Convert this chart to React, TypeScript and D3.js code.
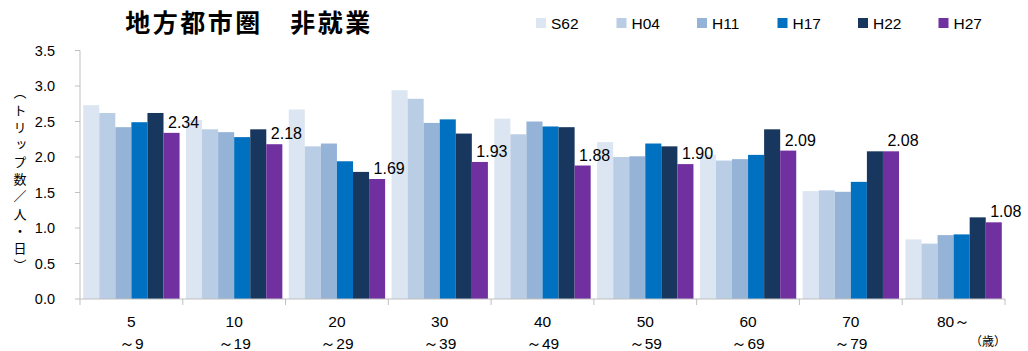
import React from "react";
import * as d3 from "d3";

const ageGroups = ["5\n～9", "10\n～19", "20\n～29", "30\n～39", "40\n～49", "50\n～59", "60\n～69", "70\n～79", "80～"];
const seriesNames = ["S62", "H04", "H11", "H17", "H22", "H27"];
const seriesColors = ["#DCE6F2", "#B9CDE5", "#95B3D7", "#0070C0", "#17375E", "#7030A0"];

const S62 = [2.73, 2.52, 2.67, 2.94, 2.54, 2.21, 2.03, 1.52, 0.84];
const H04 = [2.62, 2.39, 2.15, 2.82, 2.32, 2.0, 1.95, 1.53, 0.78];
const H11 = [2.42, 2.35, 2.19, 2.48, 2.5, 2.01, 1.97, 1.51, 0.9];
const H17 = [2.49, 2.28, 1.94, 2.53, 2.43, 2.19, 2.03, 1.65, 0.91];
const H22 = [2.62, 2.39, 1.79, 2.33, 2.42, 2.15, 2.39, 2.08, 1.15];
const H27 = [2.34, 2.18, 1.69, 1.93, 1.88, 1.9, 2.09, 2.08, 1.08];

const yTicks = [0, 0.5, 1.0, 1.5, 2.0, 2.5, 3.0, 3.5];

const W = 1028;
const H = 351;
const plot = { left: 80, right: 1005, top: 50.5, bottom: 299 };
const latin = "'Liberation Sans', Arial, sans-serif";
const cjk = "'Noto Sans CJK JP', sans-serif";
const axisColor = "#BFBFBF";

export default function App() {
  const series = [S62, H04, H11, H17, H22, H27];
  const x0 = d3.scaleBand<number>().domain(d3.range(ageGroups.length)).range([plot.left, plot.right]).padding(0);
  const x1 = d3
    .scaleBand<number>()
    .domain(d3.range(series.length))
    .range([0, x0.bandwidth()])
    .paddingOuter(0.2)
    .paddingInner(0);
  const y = d3.scaleLinear().domain([0, 3.5]).range([plot.bottom, plot.top]);
  const labelSeries = series.length - 1;

  return (
    <svg width={W} height={H} style={{ position: "absolute", left: 0, top: 0, background: "#fff" }}>
      {/* title */}
      <text
        x={249}
        y={32}
        textAnchor="middle"
        fontFamily={cjk}
        fontSize={25}
        fontWeight={700}
        letterSpacing={2.5}
        fill="#000"
      >
        地方都市圏　非就業
      </text>

      {/* legend */}
      {seriesNames.map((name, i) => (
        <g key={name} transform={`translate(${536 + i * 80.5},18)`}>
          <rect x={0} y={0} width={10} height={10} fill={seriesColors[i]} />
          <text x={15} y={10.5} fontFamily={latin} fontSize={15.5} fill="#000">
            {name}
          </text>
        </g>
      ))}

      {/* y axis */}
      <line x1={plot.left} x2={plot.left} y1={plot.top} y2={plot.bottom} stroke={axisColor} />
      {yTicks.map((t) => (
        <g key={t}>
          <line x1={plot.left - 5} x2={plot.left} y1={y(t)} y2={y(t)} stroke={axisColor} />
          <text x={55} y={y(t) + 5} textAnchor="end" fontFamily={latin} fontSize={14.5} fill="#000">
            {t.toFixed(1)}
          </text>
        </g>
      ))}
      <text
        x={20}
        y={86}
        fontFamily={cjk}
        fontSize={13}
        fill="#000"
        letterSpacing={4.3}
        style={{ writingMode: "vertical-rl" }}
      >
        （トリップ数／人・日）
      </text>

      {/* bars */}
      {ageGroups.map((g, gi) => (
        <g key={g} transform={`translate(${x0(gi)},0)`}>
          {series.map((vals, si) => (
            <rect
              key={si}
              x={x1(si)}
              y={y(vals[gi])}
              width={x1.bandwidth()}
              height={y(0) - y(vals[gi])}
              fill={seriesColors[si]}
            />
          ))}
        </g>
      ))}

      {/* value labels for the latest survey */}
      {ageGroups.map((g, gi) => (
        <text
          key={g}
          x={(x0(gi) as number) + (x1(labelSeries) as number) + 4.5}
          y={y(series[labelSeries][gi]) - 5}
          fontFamily={latin}
          fontSize={16}
          fill="#000"
        >
          {series[labelSeries][gi].toFixed(2)}
        </text>
      ))}

      {/* x axis */}
      <line x1={plot.left} x2={plot.right} y1={plot.bottom} y2={plot.bottom} stroke={axisColor} />
      {d3.range(ageGroups.length + 1).map((i) => {
        const xx = plot.left + i * x0.bandwidth();
        return <line key={i} x1={xx} x2={xx} y1={plot.bottom} y2={plot.bottom + 6} stroke={axisColor} />;
      })}
      {ageGroups.map((g, gi) => {
        const cx = (x0(gi) as number) + x0.bandwidth() / 2;
        return (
          <text key={g} x={cx} y={327} textAnchor="middle" fontFamily={latin} fontSize={15.5} fill="#000">
            {g.split("\n").map((line, li) => (
              <tspan key={li} x={cx} dy={li === 0 ? 0 : 22}>
                {line}
              </tspan>
            ))}
          </text>
        );
      })}
      <text x={1006} y={346} textAnchor="end" fontFamily={cjk} fontSize={12} fill="#000">
        （歳）
      </text>
    </svg>
  );
}
